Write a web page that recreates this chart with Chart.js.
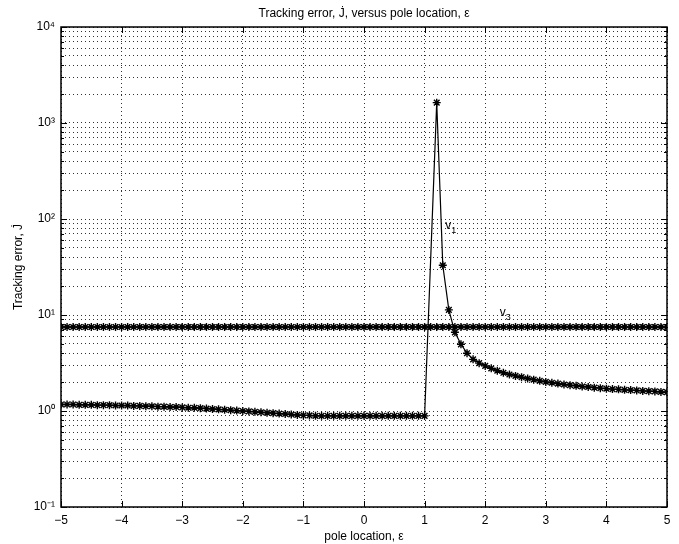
<!DOCTYPE html>
<html><head><meta charset="utf-8">
<script src="https://cdn.jsdelivr.net/npm/chart.js@4/dist/chart.umd.min.js"></script>
<style>html,body{margin:0;padding:0;background:#fff}#wrap{width:679px;height:544px}</style>
</head><body><div id="wrap"><canvas id="c" width="679" height="544"></canvas></div>
<script>
// pole location values (x)
const epsilon = [
 -5.0,-4.9,-4.8,-4.7,-4.6,-4.5,-4.4,-4.3,-4.2,-4.1,
 -4.0,-3.9,-3.8,-3.7,-3.6,-3.5,-3.4,-3.3,-3.2,-3.1,
 -3.0,-2.9,-2.8,-2.7,-2.6,-2.5,-2.4,-2.3,-2.2,-2.1,
 -2.0,-1.9,-1.8,-1.7,-1.6,-1.5,-1.4,-1.3,-1.2,-1.1,
 -1.0,-0.9,-0.8,-0.7,-0.6,-0.5,-0.4,-0.3,-0.2,-0.1,
 0.0,0.1,0.2,0.3,0.4,0.5,0.6,0.7,0.8,0.9,
 1.0,1.1,1.2,1.3,1.4,1.5,1.6,1.7,1.8,1.9,
 2.0,2.1,2.2,2.3,2.4,2.5,2.6,2.7,2.8,2.9,
 3.0,3.1,3.2,3.3,3.4,3.5,3.6,3.7,3.8,3.9,
 4.0,4.1,4.2,4.3,4.4,4.5,4.6,4.7,4.8,4.9,
 5.0
];
// tracking error, series v1
const v1 = [
 1.17,1.17,1.17,1.16,1.16,1.16,1.15,1.15,1.15,1.14,
 1.14,1.14,1.13,1.13,1.12,1.12,1.11,1.11,1.10,1.10,
 1.09,1.08,1.08,1.07,1.06,1.05,1.04,1.03,1.02,1.01,
 1.00,0.99,0.98,0.97,0.96,0.95,0.94,0.93,0.92,0.91,
 0.90,0.90,0.89,0.89,0.89,0.89,0.89,0.89,0.89,0.89,
 0.89,0.89,0.89,0.89,0.89,0.89,0.89,0.89,0.89,0.89,
 0.89,null,1630,33,11.3,6.6,4.95,4.0,3.45,3.15,
 2.95,2.78,2.63,2.50,2.40,2.32,2.25,2.18,2.12,2.06,
 2.01,1.97,1.93,1.89,1.86,1.83,1.80,1.78,1.75,1.73,
 1.71,1.69,1.68,1.66,1.65,1.64,1.62,1.61,1.60,1.58,
 1.57
];
// tracking error, series v3
const v3 = [
 7.5,7.5,7.5,7.5,7.5,7.5,7.5,7.5,7.5,7.5,
 7.5,7.5,7.5,7.5,7.5,7.5,7.5,7.5,7.5,7.5,
 7.5,7.5,7.5,7.5,7.5,7.5,7.5,7.5,7.5,7.5,
 7.5,7.5,7.5,7.5,7.5,7.5,7.5,7.5,7.5,7.5,
 7.5,7.5,7.5,7.5,7.5,7.5,7.5,7.5,7.5,7.5,
 7.5,7.5,7.5,7.5,7.5,7.5,7.5,7.5,7.5,7.5,
 7.5,7.5,7.5,7.5,7.5,7.5,7.5,7.5,7.5,7.5,
 7.5,7.5,7.5,7.5,7.5,7.5,7.5,7.5,7.5,7.5,
 7.5,7.5,7.5,7.5,7.5,7.5,7.5,7.5,7.5,7.5,
 7.5,7.5,7.5,7.5,7.5,7.5,7.5,7.5,7.5,7.5,
 7.5
];
const xTickValues = [-5,-4,-3,-2,-1,0,1,2,3,4,5];
const yTickValues = [
 0.1,0.2,0.3,0.4,0.5,0.6,0.7,0.8,0.9,
 1,2,3,4,5,6,7,8,9,
 10,20,30,40,50,60,70,80,90,
 100,200,300,400,500,600,700,800,900,
 1000,2000,3000,4000,5000,6000,7000,8000,9000,
 10000
];
const seriesNames = ['v1','v3'];
const labelMain = ['v','v'];
const labelSub = ['1','3'];
const labelX = [1.39, 2.29];
const labelY = [85, 10.5];

const SUP = {'-':'\u207B','0':'\u2070','1':'\u00B9','2':'\u00B2','3':'\u00B3','4':'\u2074','5':'\u2075'};
function isPow10(v){ const e=Math.round(Math.log10(v)); return Math.abs(v-Math.pow(10,e)) < 1e-9*v; }
function supStr(n){ return String(n).split('').map(c=>SUP[c]).join(''); }

const FONT = "'Liberation Sans', Arial, sans-serif";
const LEFT = 61, RIGHT = 667, TOP = 27, BOTTOM = 507;

const framePlugin = {
  id: 'frame',
  beforeDatasetsDraw(chart){
    const {ctx, chartArea:a, scales:{x,y}} = chart;
    ctx.save();
    ctx.strokeStyle = '#000';
    ctx.lineWidth = 1;
    ctx.beginPath();
    yTickValues.forEach(v=>{
      const py = Math.round(y.getPixelForValue(v))+0.5;
      const len = isPow10(v) ? 6 : 3;
      ctx.moveTo(a.left, py); ctx.lineTo(a.left+len, py);
      ctx.moveTo(a.right, py); ctx.lineTo(a.right-len, py);
    });
    xTickValues.forEach(v=>{
      const px = Math.round(x.getPixelForValue(v))+0.5;
      ctx.moveTo(px, a.bottom); ctx.lineTo(px, a.bottom-6);
      ctx.moveTo(px, a.top); ctx.lineTo(px, a.top+6);
    });
    ctx.stroke();
    ctx.lineWidth = 1.5;
    ctx.strokeRect(a.left, a.top, a.right-a.left, a.bottom-a.top);
    ctx.restore();
  },
  afterDatasetsDraw(chart){
    const {ctx, scales:{x,y}} = chart;
    ctx.save();
    ctx.fillStyle = '#000';
    ctx.textBaseline = 'middle';
    ctx.textAlign = 'left';
    labelMain.forEach((t,i)=>{
      const px = x.getPixelForValue(labelX[i]);
      const py = y.getPixelForValue(labelY[i]);
      ctx.font = '12px ' + FONT;
      ctx.fillText(t, px-3, py);
      const w = ctx.measureText(t).width;
      ctx.font = '9px ' + FONT;
      ctx.fillText(labelSub[i], px-3+w, py+5);
    });
    ctx.restore();
  }
};

const mk = arr => epsilon.map((e,i)=>({x:e, y:arr[i]}));
const ds = (name, arr) => ({
  label: name, data: mk(arr),
  borderColor:'#000', backgroundColor:'#000', borderWidth:1.2,
  pointStyle:'star', pointRadius:4, pointBorderWidth:1.4, pointBorderColor:'#000',
  pointHoverRadius:4, spanGaps:true, tension:0, fill:false
});

new Chart(document.getElementById('c'), {
  type: 'line',
  data: { datasets: [ds(seriesNames[0], v1), ds(seriesNames[1], v3)] },
  options: {
    responsive: false, animation: false, devicePixelRatio: 1,
    layout: { padding: { left: 0, right: 679-RIGHT, top: 0, bottom: 0 } },
    plugins: {
      legend: { display: false },
      tooltip: { enabled: false },
      title: {
        display: true, fullSize: false,
        text: 'Tracking error, J\u0307, versus pole location, \u03B5',
        color: '#000', font: { family: FONT, size: 12, weight: 'normal' },
        padding: { top: 6, bottom: TOP - 6 - 14.4 }
      }
    },
    scales: {
      x: {
        type: 'linear', min: -5, max: 5,
        afterBuildTicks: s => { s.ticks = xTickValues.map(v=>({value:v})); },
        afterFit: s => { s.height = 544 - BOTTOM; },
        ticks: {
          color:'#000', padding: 6, autoSkip:false, maxRotation:0,
          font: { family: FONT, size: 12 },
          callback: v => (v < 0 ? '\u2212' + Math.abs(v) : String(v))
        },
        grid: { color:'#333', lineWidth:1, drawTicks:false },
        border: { display:false, dash:[1,3] },
        title: { display:true, text:'pole location, \u03B5', color:'#000',
                 font:{ family: FONT, size: 12 }, padding:{top:0,bottom:0} }
      },
      y: {
        type: 'logarithmic', min: 0.1, max: 10000,
        afterBuildTicks: s => { s.ticks = yTickValues.map(v=>({value:v, major:isPow10(v)})); },
        afterFit: s => { s.width = LEFT; },
        ticks: {
          color:'#000', padding: 6, autoSkip:false,
          font: { family: FONT, size: 12 },
          callback: v => {
            if (!isPow10(v)) return '';
            return '10' + supStr(Math.round(Math.log10(v)));
          }
        },
        grid: { color:'#333', lineWidth:1, drawTicks:false },
        border: { display:false, dash:[1,3] },
        title: { display:true, text:'Tracking error, J\u0307', color:'#000',
                 font:{ family: FONT, size: 12 }, padding:{top:11,bottom:0} }
      }
    }
  },
  plugins: [framePlugin]
});
</script>
</body></html>
